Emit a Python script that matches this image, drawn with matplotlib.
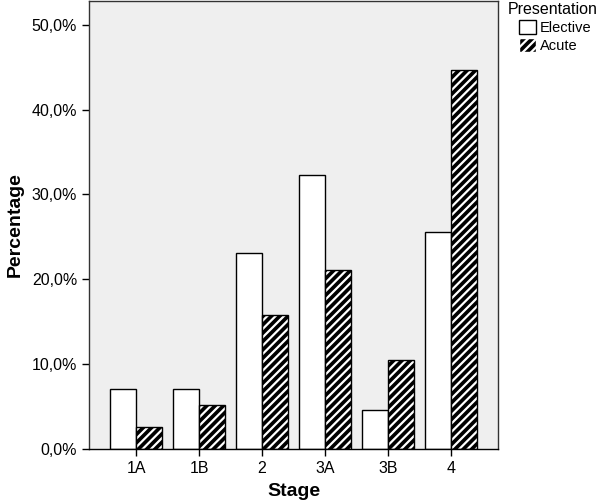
import numpy as np
import matplotlib
matplotlib.use("Agg")
import matplotlib.pyplot as plt
from matplotlib.patches import Patch
from matplotlib.ticker import FuncFormatter

stages = ["1A", "1B", "2", "3A", "3B", "4"]
elective = [7.1, 7.1, 23.1, 32.3, 4.6, 25.6]
acute = [2.6, 5.2, 15.8, 21.1, 10.5, 44.7]

plt.rcParams['font.family'] = ['Liberation Sans', 'DejaVu Sans']
plt.rcParams['hatch.linewidth'] = 1.6

fig = plt.figure(figsize=(6.0, 5.01), dpi=100)
ax = fig.add_axes([89 / 600, 52 / 501, 409 / 600, 448 / 501])
ax.set_facecolor('#efefef')

x = np.arange(len(stages))
w = 0.41
ax.bar(x - w / 2, elective, w, color='white', edgecolor='black', linewidth=1, zorder=2)
# acute bars: black with white diagonal stripes, then a black outline on top
ax.bar(x + w / 2, acute, w, color='black', edgecolor='white', hatch='////', linewidth=0, zorder=2)
ax.bar(x + w / 2, acute, w, fill=False, edgecolor='black', linewidth=1, zorder=3)

ax.set_xlim(-0.75, 5.75)
ax.set_ylim(0, 52.8)
ax.set_xticks(x)
ax.set_xticklabels(stages)
ax.set_yticks(np.arange(0, 51, 10))
ax.yaxis.set_major_formatter(FuncFormatter(lambda v, p: f"{v:.1f}%".replace('.', ',')))
ax.tick_params(axis='both', labelsize=11.5, length=5, width=1, direction='out', colors='black')
for s in ax.spines.values():
    s.set_color('#333333')
    s.set_linewidth(1)
ax.spines['bottom'].set_color('black')

ax.set_xlabel("Stage", fontsize=14, fontweight='bold', labelpad=5)
ax.set_ylabel("Percentage", fontsize=14, fontweight='bold', labelpad=6)

# legend: title on the left, entries indented a little
fig.text(508 / 600, 1 - 10 / 501, "Presentation", fontsize=11.5, va='center', ha='left')
handles = [Patch(facecolor='white', edgecolor='black', label='Elective'),
           Patch(facecolor='black', edgecolor='white', hatch='////', label='Acute')]
fig.legend(handles=handles, loc='upper left', bbox_to_anchor=(516 / 600, 1 - 17 / 501),
           frameon=False, fontsize=10.5, handlelength=1.15, handleheight=1.15,
           handletextpad=0.3, borderpad=0.2, borderaxespad=0, labelspacing=0.2)

fig.savefig("out.png", dpi=100)
